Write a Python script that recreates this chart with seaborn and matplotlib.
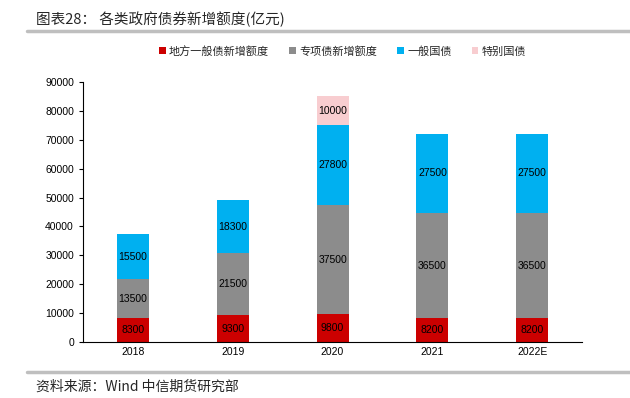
import numpy as np
import pandas as pd
import matplotlib
matplotlib.use('Agg')
import matplotlib.pyplot as plt
import seaborn as sns
from matplotlib.patches import Patch
from matplotlib.lines import Line2D

years = ['2018', '2019', '2020', '2021', '2022E']
local_general = [8300, 9300, 9800, 8200, 8200]
local_special = [13500, 21500, 37500, 36500, 36500]
treasury = [15500, 18300, 27800, 27500, 27500]
special_treasury = [0, 0, 10000, 0, 0]

series_names = ['地方一般债新增额度', '专项债新增额度', '一般国债', '特别国债']
series_vals = [local_general, local_special, treasury, special_treasury]
colors = ['#CC0000', '#8C8C8C', '#00B0F0', '#F8CDD0']

sns.set_style('white')
plt.rcParams['font.family'] = ['Liberation Sans', 'Noto Sans CJK SC', 'DejaVu Sans']

fig = plt.figure(figsize=(6.3, 3.98), dpi=100)
ax = fig.add_axes([0.1317, 0.1407, 0.7923, 0.653])

bottom = np.zeros(len(years))
for name, vals, c in zip(series_names, series_vals, colors):
    df = pd.DataFrame({'year': years, 'val': vals})
    sns.barplot(data=df, x='year', y='val', color=c, width=0.32,
                bottom=bottom, ax=ax, saturation=1, linewidth=0)
    cont = ax.containers[-1]
    labels = [str(v) if v > 0 else '' for v in vals]
    ax.bar_label(cont, labels=labels, label_type='center', fontsize=7.5, color='black')
    bottom = bottom + np.array(vals)

ax.set_ylim(0, 90000)
ax.set_yticks(np.arange(0, 90001, 10000))
ax.set_xlim(-0.5, 4.5)
ax.set_xlabel('')
ax.set_ylabel('')
ax.tick_params(axis='both', labelsize=7.5, colors='black')
ax.tick_params(axis='y', which='major', direction='out', length=3, width=0.8, left=True)
ax.tick_params(axis='x', length=0)
for s in ['top', 'right']:
    ax.spines[s].set_visible(False)
for s in ['left', 'bottom']:
    ax.spines[s].set_color('black')
    ax.spines[s].set_linewidth(0.8)

handles = [Patch(facecolor=c, edgecolor='none') for c in colors]
ax.legend(handles, series_names, loc='lower center', bbox_to_anchor=(0.52, 1.06),
          ncol=4, frameon=False, fontsize=8, handlelength=0.6, handleheight=0.6,
          handletextpad=0.3, columnspacing=1.8,
          prop={'family': ['Noto Sans CJK SC', 'DejaVu Sans'], 'size': 8})

fig.text(0.057, 0.952, '图表28： 各类政府债券新增额度(亿元)', fontsize=10.5,
         family=['Noto Sans CJK SC', 'DejaVu Sans'], va='center')
fig.add_artist(Line2D([0.043, 1.0], [0.922, 0.922], color='#BFBFBF', lw=2.5))
fig.add_artist(Line2D([0.043, 1.0], [0.065, 0.065], color='#BFBFBF', lw=2.5))
fig.text(0.057, 0.028, '资料来源：Wind 中信期货研究部', fontsize=10,
         family=['Noto Sans CJK SC', 'DejaVu Sans'], va='center')

fig.savefig('out.png', dpi=100)
